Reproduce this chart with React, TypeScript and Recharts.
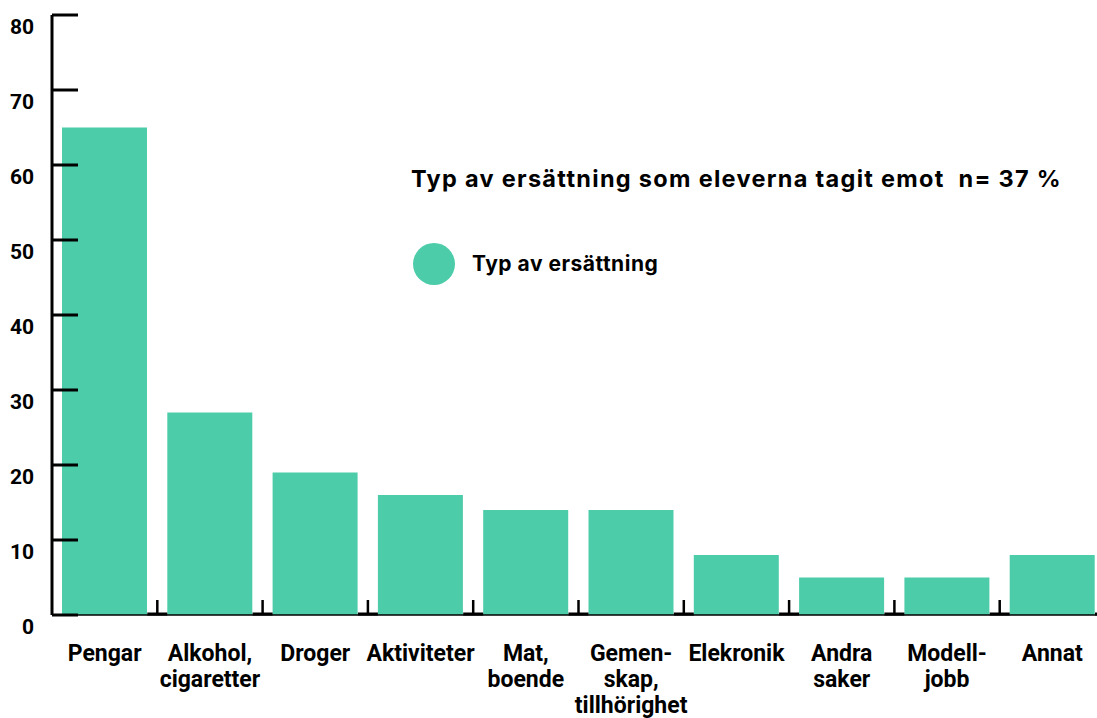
import React from 'react';
import { BarChart, Bar, XAxis, YAxis } from 'recharts';

const categories = [
  'Pengar',
  'Alkohol,\ncigaretter',
  'Droger',
  'Aktiviteter',
  'Mat,\nboende',
  'Gemen-\nskap,\ntillhörighet',
  'Elekronik',
  'Andra\nsaker',
  'Modell-\njobb',
  'Annat',
];
const values = [65, 27, 19, 16, 14, 14, 8, 5, 5, 8];
const yTicks = [0, 10, 20, 30, 40, 50, 60, 70, 80];
const seriesName = 'Typ av ersättning';
const title = 'Typ av ersättning som eleverna tagit emot\u00a0\u00a0n= 37 %';

const BAR_COLOR = '#4DCCAA';

const data = categories.map((name, i) => ({ name, value: values[i] }));

const YTick = (props: any) => {
  const { x, y, payload } = props;
  return (
    <g>
      <line x1={x} x2={x + 26} y1={y} y2={y} stroke="#000" strokeWidth={3} />
      <text
        x={x - 18}
        y={y + 19}
        textAnchor="end"
        fontFamily="Roboto"
        fontWeight={700}
        fontSize={21}
        fill="#000"
      >
        {payload.value}
      </text>
    </g>
  );
};

const XTick = (props: any) => {
  const { x, y, payload, index, visibleTicksCount } = props;
  const half = payload && payload.offset ? payload.offset : 52.65;
  const lines = String(payload.value).split('\n');
  const marks: number[] = [];
  if (index > 0) marks.push(x - half);
  if (index === visibleTicksCount - 1) marks.push(x + half);
  return (
    <g>
      {marks.map((bx, i) => (
        <g key={i}>
          <line x1={bx} x2={bx} y1={y - 15} y2={y} stroke="#000" strokeWidth={2.5} />
          <line x1={bx - 10} x2={bx + 10} y1={y - 1} y2={y - 1} stroke="#000" strokeWidth={3} />
        </g>
      ))}
      <text
        textAnchor="middle"
        fontFamily="Roboto"
        fontWeight={700}
        fontSize={23}
        fill="#000"
      >
        {lines.map((l, i) => (
          <tspan key={i} x={x} y={y + 46 + i * 26}>
            {l}
          </tspan>
        ))}
      </text>
    </g>
  );
};

export default function App() {
  return (
    <div
      style={{
        position: 'fixed',
        left: 0,
        top: 0,
        width: 1097,
        height: 718,
        overflow: 'hidden',
        background: '#fff',
      }}
    >
      <BarChart
        width={1105}
        height={718}
        data={data}
        margin={{ top: 15, right: 0, left: 0, bottom: 0 }}
      >
        <YAxis
          width={52}
          domain={[0, 80]}
          ticks={yTicks}
          interval={0}
          axisLine={{ stroke: '#000', strokeWidth: 3 }}
          tickLine={false}
          tickSize={0}
          tickMargin={0}
          tick={<YTick />}
        />
        <XAxis
          dataKey="name"
          height={103}
          interval={0}
          axisLine={{ stroke: '#000', strokeWidth: 1.5 }}
          tickLine={false}
          tickSize={0}
          tickMargin={0}
          tick={<XTick />}
        />
        <Bar dataKey="value" name={seriesName} fill={BAR_COLOR} barSize={85} isAnimationActive={false} />
      </BarChart>
      <div
        style={{
          position: 'absolute',
          left: 411,
          top: 167,
          fontFamily: 'Inter',
          fontWeight: 700,
          fontSize: 23.5,
          letterSpacing: 1.3,
          lineHeight: '23px',
          color: '#000',
          whiteSpace: 'nowrap',
        }}
      >
        {title}
      </div>
      <div
        style={{
          position: 'absolute',
          left: 413,
          top: 243,
          display: 'flex',
          alignItems: 'center',
          height: 42,
        }}
      >
        <svg width={42} height={42} style={{ display: 'block' }}>
          <circle cx={21} cy={21} r={21} fill={BAR_COLOR} />
        </svg>
        <span
          style={{
            marginLeft: 17,
            fontFamily: 'Inter',
            fontWeight: 700,
            fontSize: 21,
            letterSpacing: 0.5,
            lineHeight: '42px',
            color: '#000',
            whiteSpace: 'nowrap',
          }}
        >
          {seriesName}
        </span>
      </div>
    </div>
  );
}
